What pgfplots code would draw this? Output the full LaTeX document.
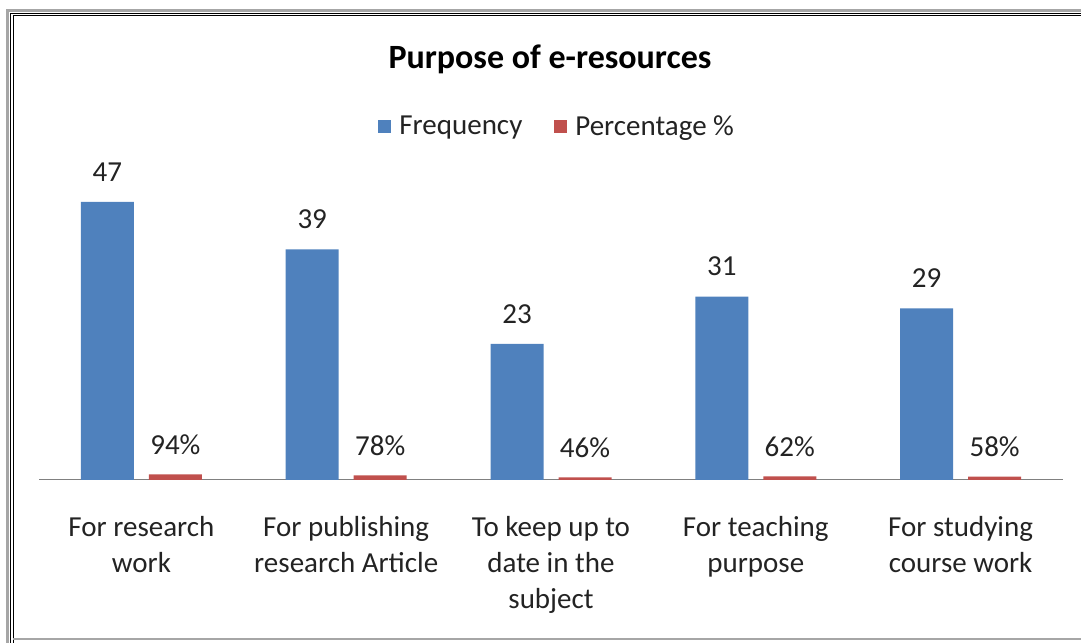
\documentclass[border=0pt]{standalone}
\usepackage{fontspec}
\setmainfont{Carlito}
\usepackage{pgfplots}
\pgfplotsset{compat=1.18}
\definecolor{exblue}{RGB}{79,129,189}
\definecolor{exred}{RGB}{192,80,77}
\definecolor{txt}{RGB}{35,35,35}
\begin{document}
\begin{tikzpicture}[x=1bp,y=1bp,font=\fontsize{29bp}{36bp}\selectfont]
\useasboundingbox (0,0) rectangle (1081,643);
% frame
\draw[gray!70, line width=3bp] (7.5,0) -- (7.5,632) -- (1081,632);
\draw[black, line width=1bp] (10.5,0) -- (10.5,629.5) -- (1081,629.5);
\draw[black, line width=1bp] (13.5,0) -- (13.5,627) -- (1081,627);
\draw[gray!70, line width=2bp] (13,4) -- (1081,4);
\node[font=\bfseries\fontsize{34bp}{40bp}\selectfont, text=black] at (550,584) {Purpose of e-resources};
\begin{axis}[
  at={(39bp,163bp)}, anchor=south west,
  scale only axis, width=1024bp, height=295.75bp,
  xmin=-0.5, xmax=4.5, ymin=0, ymax=50,
  ybar, bar width=53bp,
  hide y axis,
  axis x line=bottom,
  x axis line style={-, draw=gray, line width=1bp},
  xtick={0,1,2,3,4},
  xticklabels={{For research\\work},{For publishing\\research Article},{To keep up to\\date in the\\subject},{For teaching\\purpose},{For studying\\course work}},
  major tick length=0pt,
  xticklabel style={align=center, text=txt, font=\fontsize{29bp}{36bp}\selectfont, yshift=-33bp},
  clip=false,
  nodes near coords,
  point meta=explicit symbolic,
  every node near coord/.append style={anchor=center, yshift=30bp, text=txt, font=\fontsize{29bp}{36bp}\selectfont},
  legend style={at={(0.506,1.196)}, anchor=center, draw=none, fill=none, legend columns=2,
    font=\fontsize{29bp}{36bp}\selectfont, text=txt,
    /tikz/every odd column/.append style={column sep=6bp},
    /tikz/every even column/.append style={column sep=30bp}},
  legend image code/.code={\fill[#1] (0bp,-6.5bp) rectangle (13bp,6.5bp);},
]
\addplot[fill=exblue, draw=none, bar shift=-34bp] coordinates {(0,47)[47] (1,39)[39] (2,23)[23] (3,31)[31] (4,29)[29]};
\addlegendentry{Frequency}
\addplot[fill=exred, draw=none, bar shift=34bp] coordinates {(0,0.94)[94\%] (1,0.78)[78\%] (2,0.46)[46\%] (3,0.62)[62\%] (4,0.58)[58\%]};
\addlegendentry{Percentage \%}
\end{axis}
\end{tikzpicture}
\end{document}
